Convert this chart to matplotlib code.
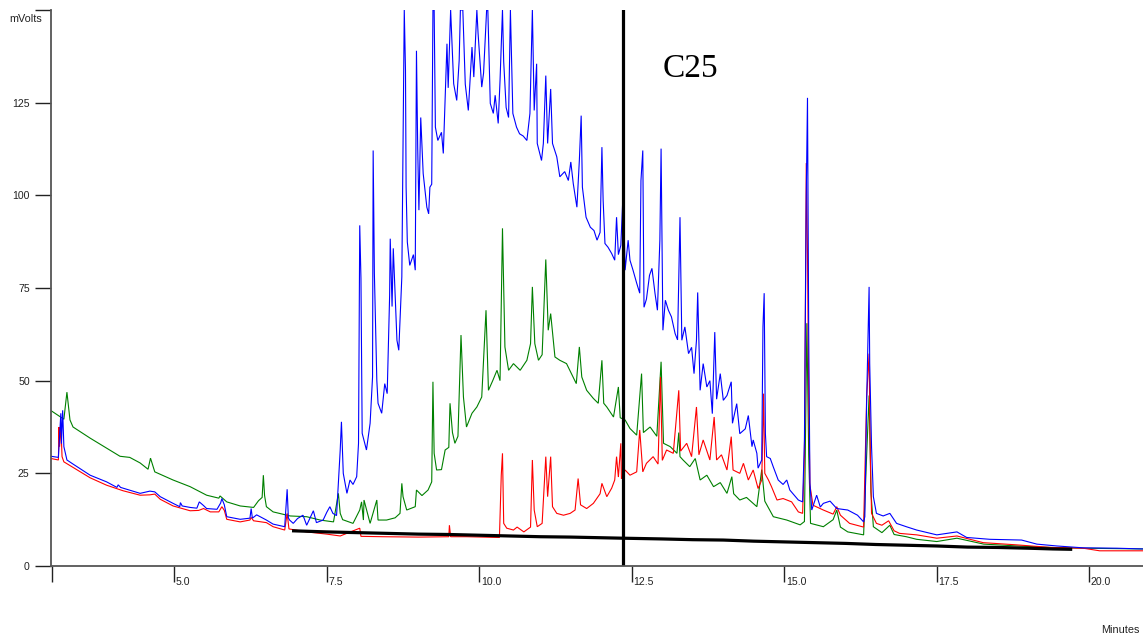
import matplotlib
matplotlib.use('Agg')
import matplotlib.pyplot as plt
import matplotlib.transforms as mtransforms

# ---------------- data (time in minutes, signal in mVolts) ----------------
blue_pts = [
    (2.98, 29.6), (3.10, 29.3), (3.14, 41.2), (3.15, 33.0), (3.17, 42.0), (3.19, 32.2), (3.24, 28.6),
    (3.34, 27.5), (3.62, 24.5), (3.89, 22.7), (4.06, 21.2), (4.08, 21.9), (4.12, 21.2), (4.22, 20.7),
    (4.44, 19.6), (4.60, 20.2), (4.68, 20.0), (4.77, 18.7), (4.98, 16.9), (5.09, 16.0), (5.10, 17.1),
    (5.13, 16.2), (5.26, 15.8), (5.37, 15.6), (5.41, 17.3), (5.48, 16.3), (5.53, 15.5), (5.70, 15.3),
    (5.76, 17.0), (5.78, 18.2), (5.82, 16.5), (5.86, 13.3), (6.08, 12.6), (6.24, 12.9), (6.26, 15.5),
    (6.28, 12.9), (6.35, 13.8), (6.51, 12.4), (6.62, 11.3), (6.81, 10.6), (6.85, 20.7), (6.87, 13.0),
    (6.89, 12.4), (6.95, 11.5), (7.02, 12.8), (7.11, 13.7), (7.17, 11.0), (7.28, 14.9), (7.33, 11.7),
    (7.44, 12.4), (7.50, 14.5), (7.55, 16.0), (7.60, 14.2), (7.66, 13.6), (7.72, 31.3), (7.74, 38.9),
    (7.77, 25.0), (7.83, 19.6), (7.88, 23.2), (7.93, 22.0), (7.99, 24.1), (8.02, 33.1), (8.04, 91.9),
    (8.06, 77.6), (8.08, 35.8), (8.15, 31.3), (8.21, 38.5), (8.25, 51.0), (8.26, 112.1), (8.28, 79.0),
    (8.32, 50.1), (8.34, 43.9), (8.40, 41.2), (8.45, 49.2), (8.49, 46.5), (8.53, 73.0), (8.54, 88.3),
    (8.57, 70.0), (8.59, 85.7), (8.62, 73.6), (8.65, 60.9), (8.68, 58.2), (8.71, 70.0), (8.73, 78.0),
    (8.77, 150.0), (8.79, 133.7), (8.80, 102.3), (8.82, 87.4), (8.86, 81.1), (8.92, 84.0), (8.95, 79.8),
    (8.97, 139.0), (8.99, 113.0), (9.01, 96.0), (9.04, 121.0), (9.08, 105.9), (9.14, 96.8), (9.17, 95.0),
    (9.19, 102.2), (9.22, 103.0), (9.24, 150.0), (9.26, 150.0), (9.28, 118.4), (9.32, 114.8), (9.38, 117.0),
    (9.41, 111.3), (9.47, 140.9), (9.49, 129.0), (9.53, 150.0), (9.55, 141.8), (9.58, 130.1), (9.63, 125.6),
    (9.67, 136.4), (9.69, 150.0), (9.73, 150.0), (9.77, 130.0), (9.80, 125.6), (9.82, 122.9), (9.88, 140.0),
    (9.91, 131.9), (9.96, 150.0), (9.98, 143.7), (10.04, 129.2), (10.07, 133.0), (10.12, 150.0),
    (10.14, 150.0), (10.18, 124.8), (10.23, 122.1), (10.26, 127.0), (10.31, 119.4), (10.34, 131.0),
    (10.38, 150.0), (10.40, 136.0), (10.44, 123.7), (10.48, 121.0), (10.51, 150.0), (10.55, 122.1),
    (10.61, 118.4), (10.66, 116.6), (10.72, 116.0), (10.78, 114.8), (10.83, 122.1), (10.87, 150.0),
    (10.90, 122.9), (10.94, 135.5), (10.95, 114.0), (11.02, 109.4), (11.05, 114.0), (11.09, 132.3),
    (11.12, 114.0), (11.17, 128.7), (11.20, 114.0), (11.27, 110.4), (11.32, 105.0), (11.40, 106.4),
    (11.46, 104.0), (11.50, 109.0), (11.54, 103.2), (11.60, 96.8), (11.64, 109.4), (11.67, 121.5),
    (11.69, 102.2), (11.75, 94.1), (11.82, 91.4), (11.88, 90.5), (11.93, 87.9), (11.98, 90.0),
    (12.01, 113.0), (12.03, 98.7), (12.06, 87.0), (12.11, 86.0), (12.17, 84.3), (12.22, 82.5),
    (12.25, 94.1), (12.28, 84.0), (12.32, 86.5), (12.36, 101.8), (12.39, 79.8), (12.44, 87.9),
    (12.47, 82.5), (12.52, 79.8), (12.58, 76.3), (12.63, 73.6), (12.65, 104.0), (12.68, 112.1),
    (12.70, 69.8), (12.74, 72.0), (12.79, 78.4), (12.83, 80.3), (12.88, 73.6), (12.92, 69.0),
    (12.96, 87.9), (12.98, 112.6), (13.01, 63.6), (13.05, 71.7), (13.10, 69.0), (13.15, 67.2),
    (13.21, 62.7), (13.25, 61.0), (13.28, 87.0), (13.29, 94.1), (13.32, 60.9), (13.37, 64.5),
    (13.43, 57.3), (13.48, 59.0), (13.52, 51.9), (13.56, 60.9), (13.58, 73.8), (13.62, 47.4),
    (13.67, 54.6), (13.73, 48.3), (13.78, 50.0), (13.82, 41.1), (13.86, 63.1), (13.89, 45.0),
    (13.95, 51.9), (14.00, 44.7), (14.06, 46.0), (14.13, 49.7), (14.15, 38.5), (14.22, 43.8),
    (14.27, 35.7), (14.36, 37.0), (14.41, 40.6), (14.47, 32.2), (14.49, 34.0), (14.55, 30.4),
    (14.57, 26.4), (14.63, 28.6), (14.65, 64.5), (14.67, 73.6), (14.69, 35.7), (14.71, 29.5),
    (14.77, 29.0), (14.82, 26.7), (14.90, 23.2), (14.98, 22.0), (15.04, 23.2), (15.09, 20.5),
    (15.23, 17.8), (15.30, 17.3), (15.33, 34.0), (15.36, 100.0), (15.38, 126.3), (15.40, 62.7),
    (15.42, 22.4), (15.45, 15.1), (15.53, 19.1), (15.59, 15.9), (15.64, 16.9), (15.75, 17.5),
    (15.86, 15.5), (16.04, 15.1), (16.20, 13.7), (16.30, 11.9), (16.32, 13.3), (16.35, 44.7),
    (16.39, 75.3), (16.40, 54.6), (16.43, 32.2), (16.46, 18.7), (16.51, 14.2), (16.62, 13.5),
    (16.73, 14.2), (16.84, 11.5), (17.00, 10.6), (17.17, 9.7), (17.50, 8.4), (17.83, 9.2),
    (17.99, 7.7), (18.37, 7.2), (18.89, 7.0), (19.14, 5.9), (19.47, 5.4), (19.90, 4.9),
    (20.45, 4.8), (20.88, 4.6),
]

green_pts = [
    (2.98, 41.9), (3.19, 39.6), (3.24, 46.9), (3.29, 39.4), (3.34, 37.5), (3.62, 34.5), (3.89, 31.8),
    (4.11, 29.6), (4.27, 29.3), (4.44, 27.8), (4.57, 26.1), (4.61, 29.1), (4.68, 25.4), (4.98, 23.2),
    (5.26, 21.4), (5.53, 19.1), (5.73, 18.3), (5.75, 18.9), (5.86, 17.3), (6.08, 16.2), (6.30, 15.8),
    (6.38, 17.6), (6.44, 18.5), (6.46, 24.5), (6.48, 19.0), (6.51, 16.0), (6.62, 14.6), (6.90, 13.5),
    (7.17, 13.3), (7.39, 12.4), (7.61, 11.9), (7.69, 19.6), (7.72, 14.2), (7.76, 12.5), (7.93, 11.5),
    (8.04, 15.1), (8.07, 17.3), (8.10, 12.4), (8.11, 17.8), (8.21, 11.5), (8.32, 17.8), (8.34, 12.4),
    (8.48, 12.4), (8.62, 13.0), (8.70, 14.2), (8.73, 22.3), (8.75, 18.7), (8.81, 15.1), (8.95, 16.0),
    (8.97, 20.5), (9.06, 19.0), (9.16, 20.5), (9.22, 22.7), (9.24, 49.7), (9.26, 30.4), (9.30, 25.9),
    (9.38, 26.0), (9.44, 31.3), (9.50, 32.0), (9.52, 43.9), (9.56, 36.0), (9.60, 33.1), (9.65, 35.0),
    (9.70, 62.3), (9.74, 45.6), (9.79, 37.5), (9.88, 41.2), (9.96, 42.9), (10.04, 45.6), (10.11, 69.0),
    (10.15, 47.4), (10.22, 50.0), (10.29, 52.8), (10.34, 50.0), (10.38, 91.1), (10.42, 59.1),
    (10.48, 52.8), (10.56, 54.6), (10.67, 52.8), (10.78, 55.5), (10.84, 60.0), (10.87, 75.3),
    (10.91, 60.0), (10.97, 55.5), (11.03, 57.0), (11.09, 82.7), (11.13, 63.6), (11.17, 68.1),
    (11.24, 56.4), (11.32, 55.5), (11.43, 54.6), (11.51, 51.9), (11.59, 49.2), (11.64, 59.1),
    (11.68, 51.0), (11.76, 47.4), (11.87, 45.2), (11.95, 43.9), (12.01, 55.5), (12.04, 43.9),
    (12.09, 42.9), (12.20, 40.2), (12.28, 48.3), (12.31, 40.0), (12.39, 39.4), (12.47, 37.1),
    (12.58, 35.3), (12.66, 51.9), (12.69, 36.0), (12.80, 37.5), (12.91, 35.0), (12.98, 55.1),
    (13.02, 33.1), (13.13, 32.2), (13.24, 30.4), (13.27, 36.0), (13.29, 29.5), (13.34, 28.6),
    (13.45, 26.8), (13.54, 29.0), (13.62, 23.2), (13.73, 24.5), (13.84, 21.4), (13.95, 22.5),
    (14.06, 19.6), (14.14, 24.1), (14.17, 19.5), (14.27, 17.8), (14.38, 18.5), (14.55, 16.0),
    (14.63, 26.0), (14.68, 17.5), (14.82, 13.3), (15.04, 12.4), (15.26, 11.1), (15.33, 12.0),
    (15.37, 65.5), (15.40, 30.0), (15.43, 11.5), (15.64, 10.6), (15.80, 12.5), (15.86, 15.1),
    (15.92, 10.5), (16.04, 9.2), (16.30, 8.4), (16.35, 30.0), (16.39, 46.0), (16.42, 20.0),
    (16.46, 10.6), (16.60, 9.0), (16.73, 11.0), (16.80, 8.5), (17.00, 7.9), (17.17, 7.2),
    (17.50, 6.6), (17.83, 7.5), (18.27, 5.9), (18.83, 5.4), (19.37, 5.0), (19.90, 4.8), (20.88, 4.6),
]

red_pts = [
    (2.98, 29.0), (3.10, 28.6), (3.11, 37.5), (3.12, 32.2), (3.14, 38.0), (3.16, 29.5), (3.19, 28.1),
    (3.34, 26.6), (3.62, 23.8), (3.89, 21.8), (4.16, 20.3), (4.44, 19.1), (4.60, 19.2), (4.68, 19.4),
    (4.77, 18.0), (4.98, 16.2), (5.26, 14.9), (5.40, 15.0), (5.48, 15.5), (5.59, 14.6), (5.73, 14.6),
    (5.78, 16.0), (5.82, 15.0), (5.86, 12.6), (6.08, 11.9), (6.24, 12.4), (6.26, 13.1), (6.30, 12.2),
    (6.51, 11.7), (6.62, 10.6), (6.81, 9.7), (6.85, 14.2), (6.88, 10.0), (7.17, 9.2), (7.50, 8.6),
    (7.72, 8.1), (8.04, 10.2), (8.06, 8.0), (8.42, 7.9), (9.00, 7.8), (9.50, 7.9), (9.51, 11.0),
    (9.53, 7.9), (9.79, 7.9), (10.33, 7.7), (10.36, 24.5), (10.38, 30.4), (10.40, 11.5), (10.45, 10.2),
    (10.56, 9.7), (10.62, 10.5), (10.73, 9.2), (10.84, 10.5), (10.87, 28.6), (10.90, 15.1),
    (10.95, 10.6), (11.03, 11.5), (11.09, 29.5), (11.12, 18.7), (11.17, 29.5), (11.20, 16.0),
    (11.27, 14.2), (11.38, 13.7), (11.49, 14.2), (11.57, 15.1), (11.62, 23.6), (11.66, 16.5),
    (11.76, 15.5), (11.87, 16.9), (11.98, 19.5), (12.01, 22.3), (12.09, 18.7), (12.17, 21.0),
    (12.22, 23.2), (12.25, 29.5), (12.28, 24.0), (12.32, 33.1), (12.33, 23.5), (12.39, 25.9),
    (12.47, 24.5), (12.58, 25.4), (12.63, 36.7), (12.68, 25.4), (12.74, 27.7), (12.85, 29.5),
    (12.93, 27.5), (12.97, 51.0), (13.00, 28.5), (13.07, 31.3), (13.18, 30.4), (13.27, 47.4),
    (13.30, 31.0), (13.40, 33.1), (13.48, 29.5), (13.56, 42.9), (13.60, 30.0), (13.67, 34.0),
    (13.78, 28.6), (13.85, 40.2), (13.89, 28.6), (13.97, 30.0), (14.06, 25.9), (14.13, 34.9),
    (14.16, 25.9), (14.27, 25.0), (14.33, 27.7), (14.41, 23.2), (14.49, 25.9), (14.57, 20.9),
    (14.63, 23.2), (14.66, 46.5), (14.68, 25.0), (14.74, 23.2), (14.79, 21.4), (14.88, 17.8),
    (14.98, 18.2), (15.12, 17.3), (15.23, 14.6), (15.30, 14.2), (15.33, 30.0), (15.36, 108.7),
    (15.38, 84.3), (15.40, 45.6), (15.42, 21.8), (15.47, 16.4), (15.64, 15.1), (15.80, 14.0),
    (15.86, 16.0), (15.92, 13.7), (16.07, 11.5), (16.30, 10.5), (16.35, 45.6), (16.39, 57.3),
    (16.41, 30.0), (16.43, 14.2), (16.51, 11.5), (16.60, 11.0), (16.71, 12.2), (16.80, 9.5),
    (16.89, 8.8), (17.17, 8.4), (17.50, 7.5), (17.83, 8.1), (18.26, 6.3), (18.81, 5.7),
    (19.37, 5.0), (19.90, 4.8), (20.17, 4.1), (20.88, 4.1),
]

baseline_pts = [
    (6.93, 9.5), (7.50, 9.2), (8.00, 9.0), (8.50, 8.8), (9.00, 8.6), (9.50, 8.5), (10.00, 8.3),
    (10.50, 8.1), (11.00, 7.9), (11.50, 7.8), (12.35, 7.5), (13.00, 7.3), (13.50, 7.1), (14.00, 7.0),
    (14.50, 6.7), (15.00, 6.5), (15.50, 6.3), (16.00, 6.1), (16.50, 5.8), (17.00, 5.6), (17.50, 5.4),
    (18.00, 5.1), (18.50, 5.0), (19.00, 4.8), (19.40, 4.6), (19.72, 4.5),
]

marker_time = 12.35
marker_label = "C25"

x_ticks = [3.0, 5.0, 7.5, 10.0, 12.5, 15.0, 17.5, 20.0]
x_tick_labels = ["", "5.0", "7.5", "10.0", "12.5", "15.0", "17.5", "20.0"]
y_ticks = [0, 25, 50, 75, 100, 125, 150]
y_tick_labels = ["0", "25", "50", "75", "100", "125", ""]

# ---------------- figure ----------------
W, H = 1143, 637
fig = plt.figure(figsize=(W / 100, H / 100), dpi=100)
ax = fig.add_axes([50.7 / W, 71 / H, 1 - 50.7 / W, 556 / H])
ax.set_xlim(2.974, 20.88)
ax.set_ylim(0, 150)


def split(pts):
    return [p[0] for p in pts], [p[1] for p in pts]


for pts, col in ((green_pts, "#008000"), (red_pts, "#ff0000"), (blue_pts, "#0000ff")):
    t, v = split(pts)
    ax.plot(t, v, color=col, lw=0.8, solid_joinstyle="miter")

bt, bv = split(baseline_pts)
ax.plot(bt, bv, color="black", lw=2.3, solid_capstyle="butt")
ax.axvline(marker_time, color="black", lw=2.3)

ax.text(13.0, 131.9, marker_label, fontsize=24, family="Liberation Serif",
        ha="left", va="baseline", color="black")

for s in ("top", "right"):
    ax.spines[s].set_visible(False)
for s in ("left", "bottom"):
    ax.spines[s].set_color("#555555")
    ax.spines[s].set_linewidth(1.3)

ax.set_xticks(x_ticks)
ax.set_xticklabels(x_tick_labels)
ax.set_yticks(y_ticks)
ax.set_yticklabels(y_tick_labels)
ax.tick_params(axis="both", direction="out", length=11.5, width=1.0, color="#222222",
               labelsize=7.6, labelcolor="#222222")
ax.tick_params(axis="x", pad=-3.6)
ax.tick_params(axis="y", pad=3.6)
offset = mtransforms.ScaledTranslation(1.5 / 100, 0, fig.dpi_scale_trans)
for lab in ax.get_xticklabels():
    lab.set_horizontalalignment("left")
    lab.set_transform(lab.get_transform() + offset)
    lab.set_family("Liberation Sans")
for lab in ax.get_yticklabels():
    lab.set_family("Liberation Sans")

fig.text(41.7 / W, 1 - 19 / H, "mVolts", ha="right", va="center", fontsize=7.8,
         family="Liberation Sans", color="#222222")
fig.text(1140 / W, 1 - 630 / H, "Minutes", ha="right", va="center", fontsize=7.8,
         family="Liberation Sans", color="#222222")

fig.savefig("out.png", dpi=100)
